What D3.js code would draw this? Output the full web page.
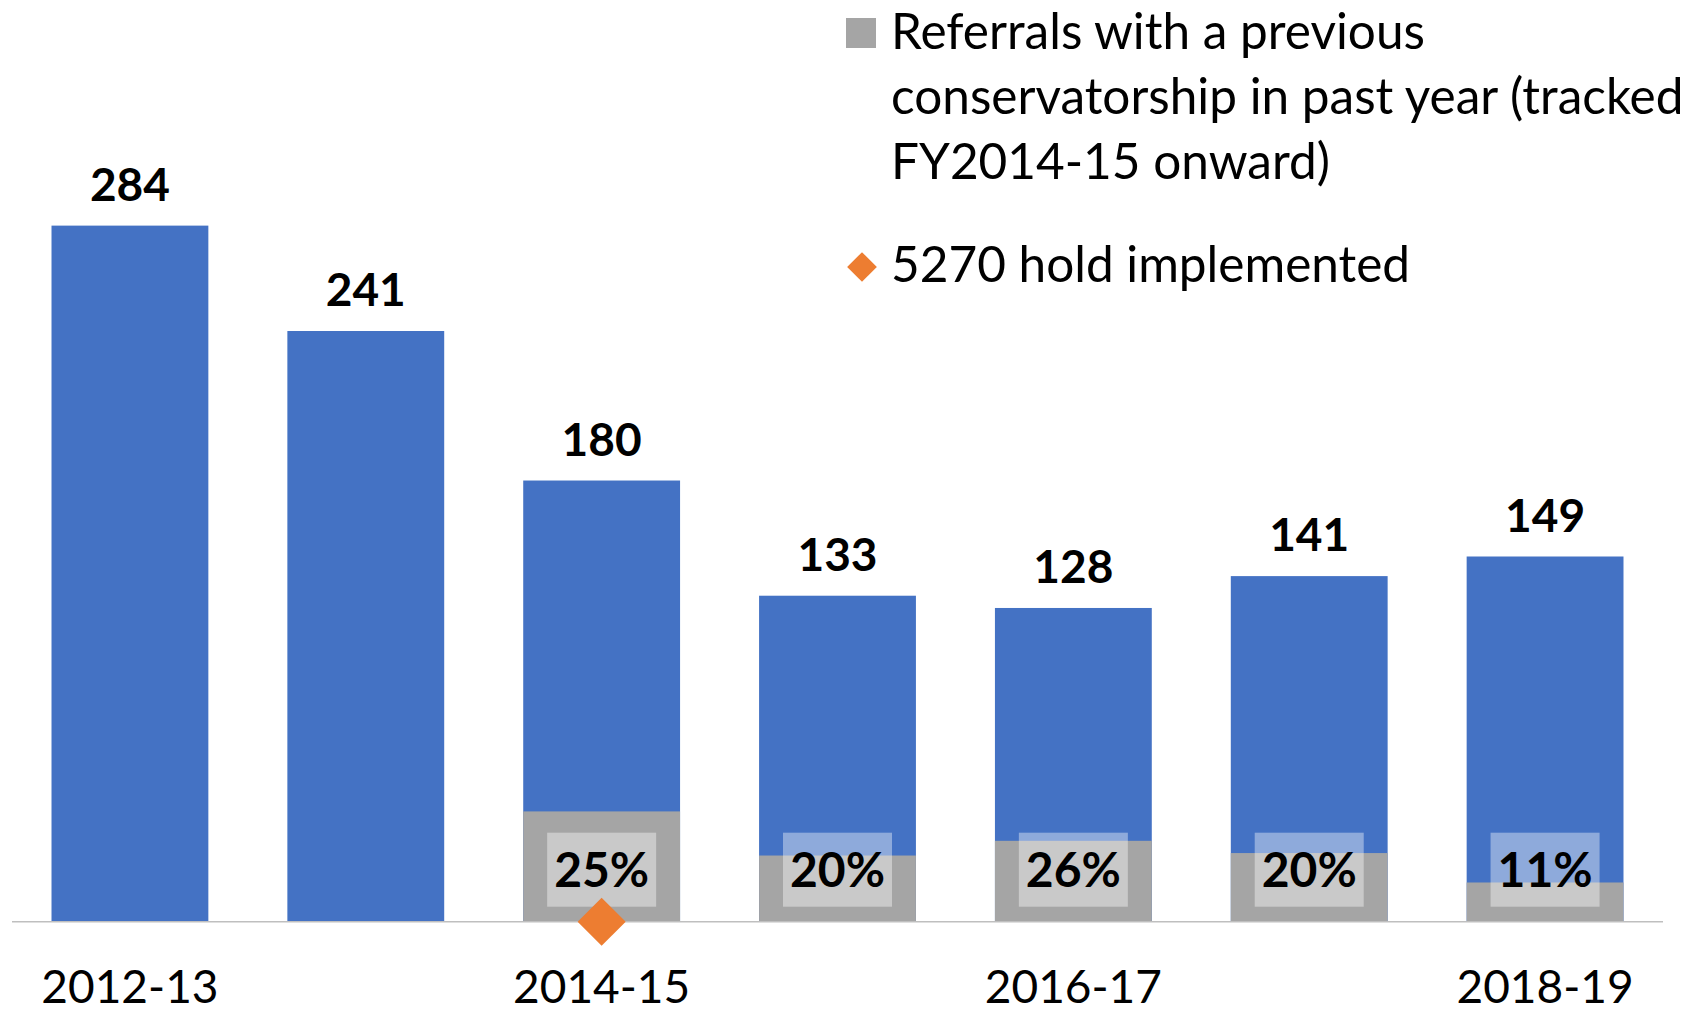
<!DOCTYPE html>
<html>
<head>
<meta charset="utf-8">
<script src="https://cdn.jsdelivr.net/npm/d3@7"></script>
<style>
  body { margin: 0; background: #fff; }
  svg text { font-family: Lato, "Open Sans", sans-serif; fill: #000; }
</style>
</head>
<body>
<svg id="chart" width="1704" height="1014"></svg>
<script>
const YEARS = ["2012-13", "2013-14", "2014-15", "2015-16", "2016-17", "2017-18", "2018-19"];
const REFERRALS = [284, 241, 180, 133, 128, 141, 149];
// referrals with a previous conservatorship (tracked from 2014-15)
const PREVIOUS = [null, null, 45, 27, 33, 28, 16];
const TICK_LABELS = ["2012-13", "2014-15", "2016-17", "2018-19"];
const HOLD_YEAR = "2014-15";
const LEGEND_PREV = ["Referrals with a previous", "conservatorship in past year (tracked", "FY2014-15 onward)"];
const LEGEND_HOLD = "5270 hold implemented";

const BLUE = "#4472c4", GRAY = "#a5a5a5", ORANGE = "#ed7d31";
const FONT_SIZE = 46;
const LEGEND_FONT = 49.5;

var svg = d3.select("svg#chart");
const margin = { "left": 12, "right": 41, "baseline": 921.7 };
const svg_width = 1704;

var x = d3.scaleBand()
    .domain(YEARS)
    .range([margin.left, svg_width - margin.right])
    .paddingInner(0.335)
    .paddingOuter(0.1675);

var y = d3.scaleLinear()
    .domain([0, 300])
    .range([margin.baseline, margin.baseline - 300 * 2.451]);

var data = YEARS.map((d, i) => ({"year": d, "total": REFERRALS[i], "prev": PREVIOUS[i]}));

// total referrals
svg.append("g").selectAll("rect")
    .data(data)
    .join("rect")
    .attr("x", d => x(d.year))
    .attr("y", d => y(d.total))
    .attr("width", x.bandwidth())
    .attr("height", d => y(0) - y(d.total))
    .attr("fill", BLUE);

var prev = data.filter(d => d.prev != null);

// previous conservatorship overlay
svg.append("g").selectAll("rect")
    .data(prev)
    .join("rect")
    .attr("x", d => x(d.year))
    .attr("y", d => y(d.prev))
    .attr("width", x.bandwidth())
    .attr("height", d => y(0) - y(d.prev))
    .attr("fill", GRAY);

// axis line
svg.append("path")
    .attr("d", d3.line()([[margin.left, y(0)], [svg_width - margin.right, y(0)]]))
    .attr("stroke", "#bfbfbf")
    .attr("stroke-width", 1.5);

// value labels above bars
svg.append("g").selectAll("text")
    .data(data)
    .join("text")
    .attr("x", d => x(d.year) + x.bandwidth() / 2)
    .attr("y", d => y(d.total) - 25)
    .attr("text-anchor", "middle")
    .style("font-size", FONT_SIZE + "px")
    .style("font-weight", "bold")
    .text(d => d.total);

// percent label boxes
var pct = svg.append("g").selectAll("g")
    .data(prev)
    .join("g")
    .attr("transform", d => "translate(" + (x(d.year) + x.bandwidth() / 2) + "," + (y(0) - 52) + ")");
pct.append("rect")
    .attr("x", -54.5).attr("y", -37)
    .attr("width", 109).attr("height", 74)
    .attr("fill", "rgba(255,255,255,0.4)");
pct.append("text")
    .attr("y", 17.5)
    .attr("text-anchor", "middle")
    .style("font-size", "48px")
    .style("font-weight", "bold")
    .text(d => Math.round(d.prev / d.total * 100) + "%");

// 5270 hold marker
svg.append("path")
    .attr("d", d3.symbol(d3.symbolSquare, 34 * 34)())
    .attr("transform", "translate(" + (x(HOLD_YEAR) + x.bandwidth() / 2) + "," + y(0) + ") rotate(45)")
    .attr("fill", ORANGE);

// x tick labels
svg.append("g").selectAll("text")
    .data(TICK_LABELS)
    .join("text")
    .attr("x", d => x(d) + x.bandwidth() / 2)
    .attr("y", 1003)
    .attr("text-anchor", "middle")
    .style("font-size", FONT_SIZE + "px")
    .text(d => d);

// legend
var legend = svg.append("g").attr("transform", "translate(846, 5)");
legend.append("rect")
    .attr("x", 0).attr("y", 13)
    .attr("width", 30).attr("height", 30)
    .attr("fill", GRAY);
legend.append("text")
    .style("font-size", LEGEND_FONT + "px")
    .selectAll("tspan")
    .data(LEGEND_PREV)
    .join("tspan")
    .attr("x", 45)
    .attr("y", (d, i) => 44 + i * 65)
    .text(d => d);
legend.append("path")
    .attr("d", d3.symbol(d3.symbolSquare, 21 * 21)())
    .attr("transform", "translate(16, 262) rotate(45)")
    .attr("fill", ORANGE);
legend.append("text")
    .attr("x", 45)
    .attr("y", 277)
    .style("font-size", LEGEND_FONT + "px")
    .text(LEGEND_HOLD);
</script>
</body>
</html>
